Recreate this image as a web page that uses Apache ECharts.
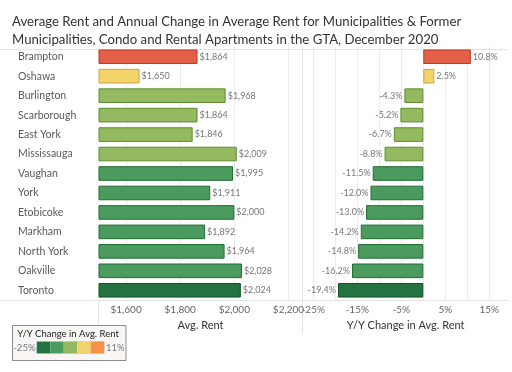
<!DOCTYPE html>
<html><head><meta charset="utf-8">
<script src="https://cdn.jsdelivr.net/npm/echarts@6/dist/echarts.min.js"></script>
<style>html,body{margin:0;padding:0;background:#fff}#c{width:512px;height:372px}</style>
</head><body><div id="c"></div>
<script>
var categories = ['Brampton','Oshawa','Burlington','Scarborough','East York','Mississauga','Vaughan','York','Etobicoke','Markham','North York','Oakville','Toronto'];
var avgRent = [1864,1650,1968,1864,1846,2009,1995,1911,2000,1892,1964,2028,2024];
var yoyChange = [10.8,2.5,-4.3,-5.2,-6.7,-8.8,-11.5,-12.0,-13.0,-14.2,-14.8,-16.2,-19.4];
var rentTicks = [1600,1800,2000,2200];
var changeLabelTicks = [-25,-15,-5,5,15];
var changeGridTicks = [-25,-20,-15,-10,-5,0,5,10,15];
var legendMin = '-25%', legendMax = '11%';

var FONT = 'Lato';
// 5-step diverging palette (-25% .. 11%)
var binEdges = [-17.8,-10.6,-3.4,3.8];
var barFill = ['#22733f','#4b9b5f','#93ba60','#f4d36b','#e35f47'];
var barBorder = ['#0f5223','#1f6d32','#5e8c2c','#c7a446','#b63b26'];
var legendFill = ['#22733f','#4b9b5f','#93ba60','#f3d26a','#f7914a'];
function binOf(v){ var i=0; while(i<binEdges.length && v>binEdges[i]) i++; return i; }

function styleFor(i){ var b = binOf(yoyChange[i]); return {color: barFill[b], borderColor: barBorder[b], borderWidth: 1}; }

var rentData = avgRent.map(function(v,i){ return {value: v, itemStyle: styleFor(i)}; });
var changeData = yoyChange.map(function(v,i){ return {value: v, itemStyle: styleFor(i), label: {position: v < 0 ? 'left' : 'right'}}; });

function money(v){ return '$' + v.toString().replace(/\B(?=(\d{3})+(?!\d))/g, ','); }

var chart = echarts.init(document.getElementById('c'));
var gTop = 47, gH = 253;
var legendX = 36.7, blockW = 13.5;
var legendItems = [
  {type:'rect', z:100, shape:{x:12.5,y:325.5,width:113.5,height:35}, style:{fill:'#f8f7f5', stroke:'#8c8c8c', lineWidth:1}},
  {type:'text', z:101, style:{text:'Y/Y Change in Avg. Rent', x:68, y:334, align:'center', verticalAlign:'middle', font:'9.5px '+FONT, fill:'#222'}},
  {type:'text', z:101, style:{text:legendMin, x:35.5, y:347.5, align:'right', verticalAlign:'middle', font:'9.5px '+FONT, fill:'#777'}},
  {type:'text', z:101, style:{text:legendMax, x:106, y:347.5, align:'left', verticalAlign:'middle', font:'9.5px '+FONT, fill:'#777'}}
];
legendFill.forEach(function(c,i){
  legendItems.push({type:'rect', z:101, shape:{x:legendX+i*blockW, y:341.5, width:blockW, height:12}, style:{fill:c}});
});
legendItems.push({type:'rect', z:102, shape:{x:legendX, y:341.5, width:blockW*5, height:12}, style:{fill:'none', stroke:'#bbb', lineWidth:0.5}});

chart.setOption({
  animation: false,
  textStyle: {fontFamily: FONT},
  title: {text: 'Average Rent and Annual Change in Average Rent for Municipalities & Former\nMunicipalities, Condo and Rental Apartments in the GTA, December 2020',
    left: 7, top: 8, textStyle: {fontSize: 13.2, fontWeight: 'normal', color: '#333', lineHeight: 18, fontFamily: FONT}},
  grid: [
    {left: 99, top: gTop, width: 203, height: gH},
    {left: 302.3, top: gTop, width: 206.8, height: gH}
  ],
  xAxis: [
    {type:'value', gridIndex:0, min:1500, max:2250,
      axisLine:{show:false}, axisTick:{show:false, customValues: rentTicks},
      splitLine:{show:true, lineStyle:{color:'#ececec', width:1}},
      axisLabel:{customValues: rentTicks, formatter: function(v){return money(v);}, color:'#666', fontSize:10, margin:5},
      name:'Avg. Rent', nameLocation:'middle', nameGap:20, nameTextStyle:{color:'#333', fontSize:11}},
    {type:'value', gridIndex:1, min:-27.5, max:19.5,
      axisLine:{show:false}, axisTick:{show:false, customValues: changeGridTicks},
      splitLine:{show:true, lineStyle:{color:'#ececec', width:1}},
      axisLabel:{customValues: changeLabelTicks, formatter: function(v){return v+'%';}, color:'#666', fontSize:10, margin:5},
      name:'Y/Y Change in Avg. Rent', nameLocation:'middle', nameGap:20, nameTextStyle:{color:'#333', fontSize:11}}
  ],
  yAxis: [
    {type:'category', gridIndex:0, data:categories, inverse:true,
      axisLine:{show:false}, axisTick:{show:false},
      axisLabel:{align:'left', margin:81, color:'#5a5a5a', fontSize:10.5}},
    {type:'category', gridIndex:1, data:categories, inverse:true,
      axisLine:{show:false}, axisTick:{show:false}, axisLabel:{show:false}}
  ],
  series: [
    {type:'bar', xAxisIndex:0, yAxisIndex:0, data:rentData, barCategoryGap:'25%',
      label:{show:true, position:'right', distance:2, formatter:function(p){return money(p.value);}, color:'#777', fontSize:9}},
    {type:'bar', xAxisIndex:1, yAxisIndex:1, data:changeData, barCategoryGap:'25%',
      label:{show:true, distance:2, formatter:function(p){return p.value.toFixed(1)+'%';}, color:'#777', fontSize:9}}
  ],
  graphic: [
    {type:'line', z:-1, shape:{x1:0,y1:49.5,x2:508,y2:49.5}, style:{stroke:'#e4e4e4', lineWidth:1}},
    {type:'line', z:-1, shape:{x1:0,y1:300.5,x2:508,y2:300.5}, style:{stroke:'#e4e4e4', lineWidth:1}},
    {type:'line', z:-1, shape:{x1:302.5,y1:47,x2:302.5,y2:334}, style:{stroke:'#e4e4e4', lineWidth:1}},
    {type:'line', z:-1, shape:{x1:98.5,y1:300,x2:98.5,y2:325}, style:{stroke:'#e4e4e4', lineWidth:1}},
    {type:'group', children: legendItems}
  ]
});
</script></body></html>
